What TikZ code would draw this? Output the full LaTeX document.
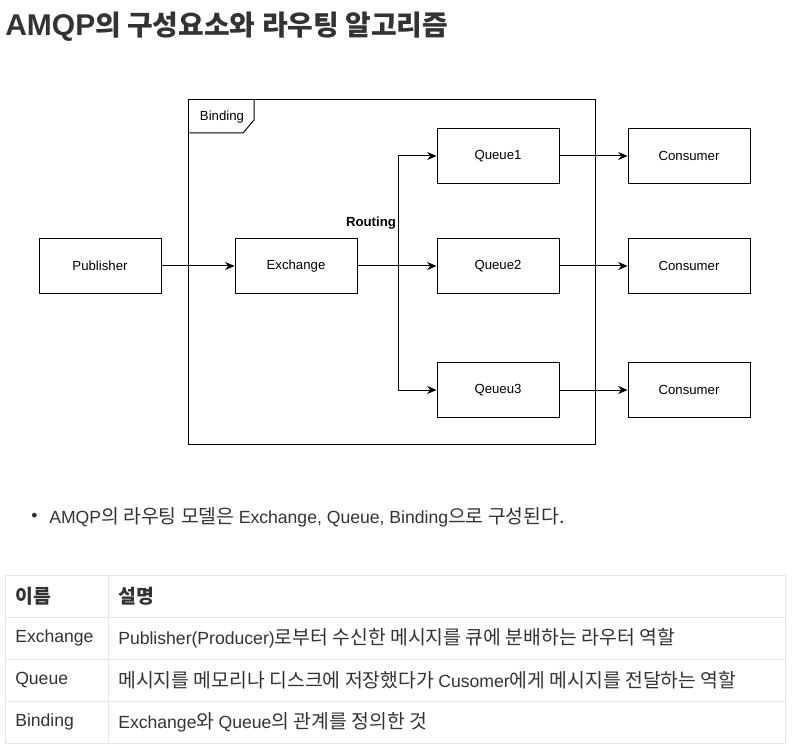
\documentclass[tikz,border=0pt]{standalone}
\usepackage{fontspec}
\setmainfont{Liberation Sans}
\newfontfamily\kr[Scale=1.1]{Noto Sans CJK KR}
\newfontfamily\krt[Scale=0.93]{Noto Sans CJK KR}
\usetikzlibrary{arrows.meta}
\definecolor{txt}{HTML}{333333}
\definecolor{gridc}{HTML}{E4E6E8}
\begin{document}
\begin{tikzpicture}[x=0.75pt,y=-0.75pt,
  box/.style={draw=black, line width=0.75pt, minimum width=91.5pt, minimum height=41.25pt,
    font=\fontsize{9.9}{12}\selectfont, inner sep=0pt},
  conn/.style={draw=black, line width=0.75pt, -{Stealth[length=7pt,width=6pt]}},
  lbl/.style={font=\fontsize{9.9}{12}\selectfont, inner sep=0pt},
  body/.style={font=\fontsize{13.2}{16}\selectfont, text=txt, inner sep=0pt, anchor=west},
  tline/.style={draw=gridc, line width=0.75pt}]
\useasboundingbox (0,0) rectangle (792,745);
% title
\node[body, font=\fontsize{22.5}{27}\selectfont\bfseries] (title) at (5,27) {AMQP{\krt\bfseries 의 구성요소와 라우팅 알고리즘}};
% binding frame
\draw[line width=0.75pt] (188,100) rectangle (595,444);
\draw[line width=0.75pt] (188,133) -- (243,133) -- (254,120) -- (254,100);
\node[lbl] (bind) at (222,117) {Binding};
% boxes
\node[box] (pub) at (100,266) {Publisher};
\node[box] (ex) at (296,266) {Exchange};
\node[box] (q1) at (498,156) {Queue1};
\node[box] (q2) at (498,266) {Queue2};
\node[box] (q3) at (498,390) {Qeueu3};
\node[box] (c1) at (689,156) {Consumer};
\node[box] (c2) at (689,266) {Consumer};
\node[box] (c3) at (689,390) {Consumer};
\node[lbl, font=\fontsize{9.9}{12}\selectfont\bfseries] (routing) at (371,223) {Routing};
\coordinate (split) at (398,266);
% connectors
\draw[conn] (pub) -- (ex);
\draw[conn] (ex) -- (q2);
\draw[conn] (split) |- (q1.west);
\draw[conn] (split) |- (q3.west);
\draw[conn] (q1) -- (c1);
\draw[conn] (q2) -- (c2);
\draw[conn] (q3) -- (c3);
% bullet
\node[body] (dot) at (31,517) {•};
\node[body] (bul) at (49,517) {AMQP{\kr 의 라우팅 모델은 }Exchange, Queue, Binding{\kr 으로 구성된다.}};
% table
\draw[tline] (5,575) rectangle (785,743);
\draw[tline] (5,617) -- (785,617);
\draw[tline] (5,659) -- (785,659);
\draw[tline] (5,701) -- (785,701);
\draw[tline] (108,575) -- (108,743);
\node[body] (h1) at (15,596) {\kr\bfseries 이름};
\node[body] (h2) at (118,596) {\kr\bfseries 설명};
\node[body] (r1a) at (15,638) {Exchange};
\node[body] (r1b) at (118,638) {Publisher(Producer){\kr 로부터 수신한 메시지를 큐에 분배하는 라우터 역할}};
\node[body] (r2a) at (15,680) {Queue};
\node[body] (r2b) at (118,680) {{\kr 메시지를 메모리나 디스크에 저장했다가 }Cusomer{\kr 에게 메시지를 전달하는 역할}};
\node[body] (r3a) at (15,722) {Binding};
\node[body] (r3b) at (118,722) {Exchange{\kr 와 }Queue{\kr 의 관계를 정의한 것}};
\end{tikzpicture}
\end{document}
